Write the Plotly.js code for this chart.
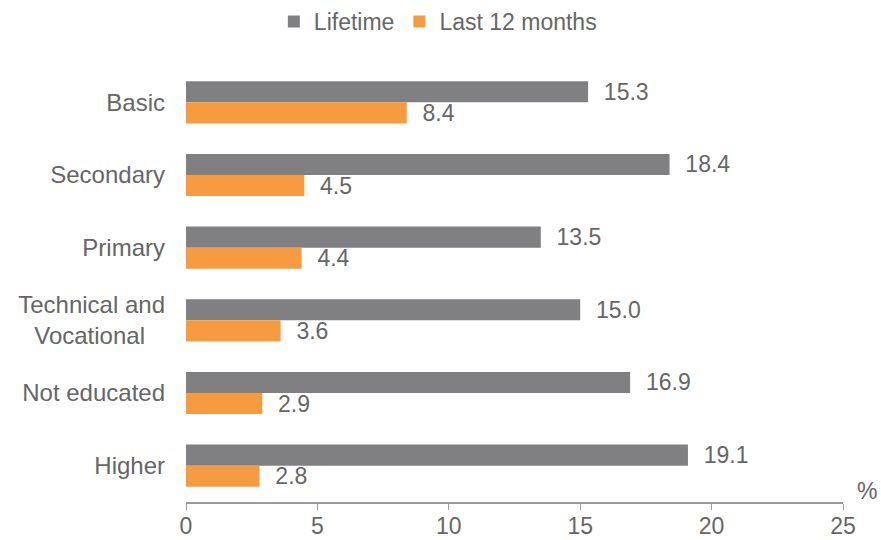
<!DOCTYPE html>
<html>
<head>
<meta charset="utf-8">
<script src="https://cdn.plot.ly/plotly-3.0.1.min.js"></script>
<style>html,body{margin:0;padding:0;background:#fff;}#chart{width:881px;height:540px;}</style>
</head>
<body>
<div id="chart"></div>
<script>
const categories = ["Basic", "Secondary", "Primary", "Technical and<br>Vocational\u00A0\u00A0\u00A0", "Not educated", "Higher"];
const lifetime = [15.3, 18.4, 13.5, 15.0, 16.9, 19.1];
const last12 = [8.4, 4.5, 4.4, 3.6, 2.9, 2.8];
const seriesNames = ["Lifetime", "Last 12 months"];
const xTicks = [0, 5, 10, 15, 20, 25];

const textColor = "#666666";
const fontFam = "Liberation Sans, Arial, sans-serif";

function barTrace(name, values, color) {
  return {
    type: "bar",
    orientation: "h",
    name: name,
    y: categories,
    x: values,
    marker: {color: color},
    text: values.map(v => "\u00A0\u00A0" + v.toFixed(1)),
    textposition: "outside",
    constraintext: "none",
    cliponaxis: false,
    textfont: {family: fontFam, size: 23, color: textColor},
    hoverinfo: "skip"
  };
}

const data = [
  barTrace(seriesNames[0], lifetime, "#808083"),
  barTrace(seriesNames[1], last12, "#F79B40")
];

const layout = {
  width: 881,
  height: 540,
  margin: {l: 186, r: 38, t: 66, b: 38},
  paper_bgcolor: "#ffffff",
  plot_bgcolor: "#ffffff",
  font: {family: fontFam, size: 23, color: textColor},
  barmode: "group",
  bargap: 0.42,
  bargroupgap: 0,
  showlegend: true,
  legend: {
    orientation: "h",
    x: 0.497, xref: "container", xanchor: "center",
    y: 1, yref: "container", yanchor: "top",
    font: {size: 23, color: textColor},
    itemwidth: 30,
    traceorder: "normal"
  },
  xaxis: {
    range: [0, 25],
    tickvals: xTicks,
    ticktext: xTicks.map(String),
    showgrid: false,
    zeroline: false,
    showline: true,
    linecolor: "#9a9a9a",
    linewidth: 1.5,
    ticks: "outside",
    ticklen: 6,
    tickcolor: "#9a9a9a",
    ticklabelstandoff: -3,
    tickfont: {size: 23, color: textColor},
    fixedrange: true
  },
  yaxis: {
    type: "category",
    autorange: "reversed",
    showgrid: false,
    zeroline: false,
    showline: false,
    ticks: "",
    ticklabelstandoff: 20,
    tickfont: {size: 24, color: textColor},
    fixedrange: true
  },
  annotations: [{
    text: "%",
    xref: "paper", yref: "paper",
    x: 1.0, y: 0,
    xanchor: "left", yanchor: "bottom",
    xshift: 12, yshift: -4,
    showarrow: false,
    font: {size: 23, color: textColor}
  }]
};

Plotly.newPlot("chart", data, layout, {displayModeBar: false, staticPlot: true});
</script>
</body>
</html>
